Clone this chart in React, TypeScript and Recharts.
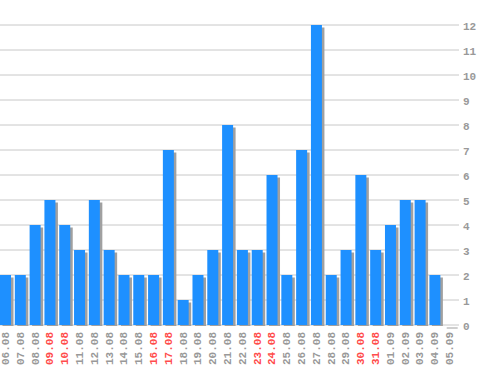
import React from "react";
import { BarChart, Bar, XAxis, YAxis, CartesianGrid } from "recharts";

const categories = [
  "06.08", "07.08", "08.08", "09.08", "10.08", "11.08", "12.08", "13.08",
  "14.08", "15.08", "16.08", "17.08", "18.08", "19.08", "20.08", "21.08",
  "22.08", "23.08", "24.08", "25.08", "26.08", "27.08", "28.08", "29.08",
  "30.08", "31.08", "01.09", "02.09", "03.09", "04.09", "05.09",
];
const values = [
  2, 2, 4, 5, 4, 3, 5, 3, 2, 2, 2, 7, 1, 2, 3, 8, 3, 3, 6, 2, 7, 12, 2, 3,
  6, 3, 4, 5, 5, 2, 0,
];
const weekends = ["09.08", "10.08", "16.08", "17.08", "23.08", "24.08", "30.08", "31.08"];
const yTicks = [0, 1, 2, 3, 4, 5, 6, 7, 8, 9, 10, 11, 12];

const data = categories.map((c, i) => ({ day: c, value: values[i] }));

const FONT = "'Liberation Mono', 'DejaVu Sans Mono', monospace";

const ShadowBar = (props: any) => {
  const { x, y, width, height } = props;
  const bx = x - 2;
  return (
    <g>
      <rect x={bx + 2.5} y={y + 2.5} width={width} height={Math.max(height - 1.5, 1)} fill="#a0a0a0" />
      {height > 0 && <rect x={bx} y={y} width={width} height={height} fill="#1e90ff" />}
    </g>
  );
};

const XTick = (props: any) => {
  const { x, y, payload } = props;
  const red = weekends.includes(payload.value);
  return (
    <text
      transform={`translate(${x + 1.5},${y}) rotate(-90)`}
      textAnchor="end"
      fontFamily={FONT}
      fontWeight="bold"
      fontSize={11}
      fill={red ? "#ff4c4c" : "#999999"}
    >
      {payload.value}
    </text>
  );
};

export default function App() {
  return (
    <div style={{ position: "absolute", left: 0, top: 0, width: 498, height: 370, background: "#fff" }}>
      <BarChart
        width={498}
        height={370}
        data={data}
        margin={{ top: 25, right: 0, bottom: 0, left: 0 }}
        barSize={11}
      >
        <CartesianGrid vertical={false} stroke="#c8c8c8" strokeWidth={1} />
        <XAxis
          dataKey="day"
          interval={0}
          height={45}
          tickLine={false}
          axisLine={false}
          tickSize={0}
          tickMargin={7}
          tick={<XTick />}
        />
        <YAxis
          orientation="right"
          domain={[0, 12]}
          ticks={yTicks}
          width={39}
          tickLine={false}
          axisLine={false}
          tickSize={0}
          tickMargin={4}
          interval={0}
          tick={{ fontFamily: FONT, fontSize: 11, fontWeight: "bold", fill: "#999999", dy: 1 }}
        />
        <Bar dataKey="value" isAnimationActive={false} shape={<ShadowBar />} />
      </BarChart>
    </div>
  );
}
